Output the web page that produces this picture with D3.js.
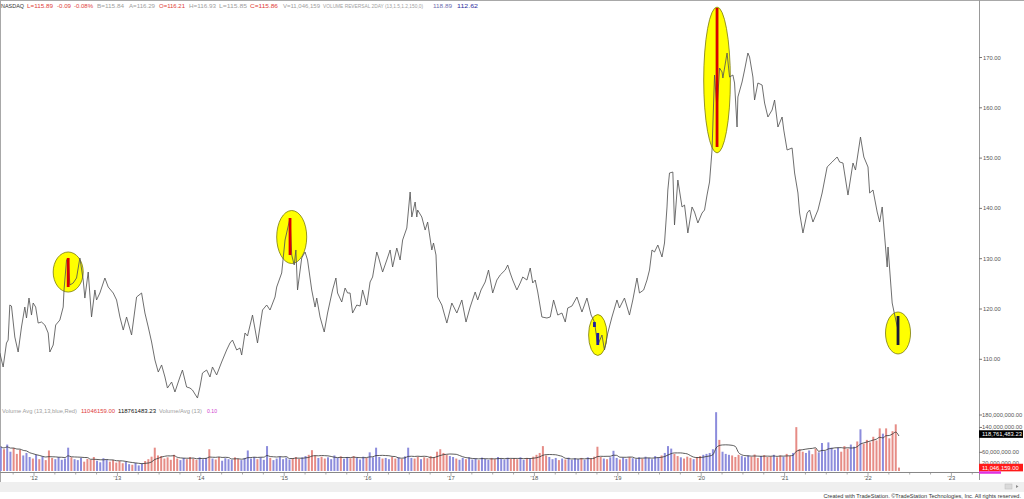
<!DOCTYPE html>
<html><head><meta charset="utf-8">
<script src="https://cdn.jsdelivr.net/npm/d3@7"></script>
<style>
html,body{margin:0;padding:0;background:#fff;}
svg{display:block;font-family:"Liberation Sans",Arial,sans-serif;}
</style></head><body>
<svg id="c" width="1024" height="499"></svg>
<script>
// ---------- DATA ----------
// price path: [fractional year, price]
const priceSeries = [[2011.59,111.25],[2011.63,108.47],[2011.67,113.24],[2011.69,113.83],[2011.71,120.79],[2011.73,120.59],[2011.77,114.43],[2011.81,111.45],[2011.85,116.42],[2011.89,120.39],[2011.91,118.21],[2011.94,122.18],[2011.97,118.80],[2011.99,121.19],[2012.02,120.39],[2012.05,117.21],[2012.09,117.41],[2012.13,116.82],[2012.17,115.23],[2012.19,111.45],[2012.23,112.84],[2012.26,116.82],[2012.31,117.81],[2012.35,120.39],[2012.36,123.78],[2012.39,129.74],[2012.41,130.14],[2012.43,124.77],[2012.47,125.17],[2012.51,126.16],[2012.55,130.14],[2012.59,125.76],[2012.61,122.18],[2012.65,127.35],[2012.69,118.41],[2012.73,123.78],[2012.75,121.79],[2012.79,123.18],[2012.85,126.16],[2012.89,124.37],[2012.95,123.18],[2012.99,121.79],[2013.03,118.41],[2013.07,115.82],[2013.11,118.41],[2013.17,114.83],[2013.23,122.38],[2013.29,123.18],[2013.33,119.20],[2013.37,116.42],[2013.41,113.44],[2013.45,109.86],[2013.49,107.47],[2013.53,108.87],[2013.57,106.48],[2013.60,104.29],[2013.65,105.48],[2013.69,103.50],[2013.75,106.48],[2013.78,107.87],[2013.83,104.49],[2013.87,104.29],[2013.90,103.89],[2013.96,102.30],[2013.99,104.49],[2014.02,107.27],[2014.07,107.87],[2014.11,106.48],[2014.14,108.47],[2014.19,106.88],[2014.25,109.46],[2014.31,111.85],[2014.35,113.24],[2014.38,113.83],[2014.43,111.85],[2014.47,112.25],[2014.49,110.85],[2014.53,115.23],[2014.56,114.63],[2014.62,118.80],[2014.68,113.24],[2014.74,119.80],[2014.79,120.79],[2014.83,119.80],[2014.89,122.38],[2014.91,124.37],[2014.97,127.16],[2015.01,133.72],[2015.07,138.09],[2015.09,130.73],[2015.12,128.75],[2015.14,131.73],[2015.16,123.78],[2015.21,130.14],[2015.25,131.33],[2015.28,129.74],[2015.33,123.78],[2015.37,120.39],[2015.39,122.18],[2015.43,118.41],[2015.48,115.43],[2015.52,119.20],[2015.58,123.78],[2015.62,126.16],[2015.64,123.18],[2015.69,121.39],[2015.73,124.17],[2015.76,123.18],[2015.79,123.18],[2015.82,119.20],[2015.87,120.79],[2015.91,120.59],[2015.94,123.78],[2015.99,120.79],[2016.03,125.37],[2016.06,126.36],[2016.11,131.33],[2016.13,130.34],[2016.18,127.35],[2016.23,129.74],[2016.27,131.73],[2016.30,128.35],[2016.35,132.12],[2016.39,129.74],[2016.42,133.72],[2016.47,136.10],[2016.51,143.26],[2016.53,138.29],[2016.57,141.27],[2016.59,138.29],[2016.60,139.68],[2016.65,138.29],[2016.69,135.70],[2016.72,137.29],[2016.77,131.73],[2016.79,133.12],[2016.82,130.73],[2016.84,122.38],[2016.89,120.79],[2016.95,117.21],[2017.01,121.19],[2017.07,119.20],[2017.13,121.79],[2017.18,117.41],[2017.23,120.39],[2017.29,123.38],[2017.32,121.79],[2017.36,123.78],[2017.41,125.37],[2017.45,127.75],[2017.50,123.18],[2017.55,125.76],[2017.59,126.76],[2017.65,127.75],[2017.68,128.75],[2017.71,127.16],[2017.74,125.76],[2017.79,123.78],[2017.83,125.17],[2017.86,126.36],[2017.91,125.76],[2017.95,128.15],[2017.98,125.17],[2018.01,125.76],[2018.04,123.38],[2018.09,118.41],[2018.15,118.21],[2018.19,118.41],[2018.23,121.79],[2018.28,118.80],[2018.33,119.20],[2018.37,117.41],[2018.40,120.20],[2018.45,120.59],[2018.51,122.38],[2018.57,119.40],[2018.63,122.18],[2018.68,118.80],[2018.72,117.41],[2018.76,112.84],[2018.81,114.83],[2018.84,111.85],[2018.88,115.23],[2018.93,118.41],[2018.99,121.79],[2019.02,120.20],[2019.08,122.18],[2019.14,118.80],[2019.18,121.79],[2019.23,126.16],[2019.26,123.18],[2019.31,123.78],[2019.35,125.76],[2019.38,127.75],[2019.41,131.73],[2019.44,131.33],[2019.48,132.72],[2019.53,130.34],[2019.56,133.12],[2019.59,140.28],[2019.60,143.66],[2019.62,147.04],[2019.66,147.23],[2019.68,136.70],[2019.72,145.64],[2019.77,140.28],[2019.80,140.67],[2019.84,135.11],[2019.89,140.28],[2019.92,139.28],[2019.96,137.10],[2020.01,139.08],[2020.04,139.68],[2020.07,142.66],[2020.10,145.25],[2020.13,151.61],[2020.16,166.52],[2020.19,159.56],[2020.22,167.91],[2020.25,167.12],[2020.26,165.92],[2020.31,170.89],[2020.34,166.12],[2020.38,166.52],[2020.40,164.93],[2020.43,156.18],[2020.44,162.15],[2020.49,165.13],[2020.52,167.51],[2020.56,170.89],[2020.58,170.10],[2020.62,166.12],[2020.64,161.55],[2020.68,164.93],[2020.73,164.53],[2020.76,160.95],[2020.80,158.17],[2020.85,159.56],[2020.88,161.55],[2020.92,156.18],[2020.97,158.17],[2020.99,155.58],[2021.03,151.61],[2021.09,152.01],[2021.12,147.04],[2021.16,143.06],[2021.18,139.08],[2021.22,135.11],[2021.27,139.08],[2021.30,139.68],[2021.34,137.29],[2021.40,139.68],[2021.45,143.06],[2021.48,145.64],[2021.51,148.23],[2021.57,149.22],[2021.63,150.22],[2021.66,149.22],[2021.70,149.02],[2021.76,142.66],[2021.82,149.02],[2021.85,147.63],[2021.91,154.19],[2021.95,150.22],[2022.00,148.23],[2022.02,143.06],[2022.06,143.66],[2022.11,139.28],[2022.14,137.29],[2022.17,140.28],[2022.20,134.31],[2022.23,128.35],[2022.24,132.32],[2022.29,121.19],[2022.32,118.80],[2022.36,115.82]];

// volume reversal painted bars
const revDates = [2012.41, 2015.07, 2018.72, 2018.76, 2020.19, 2022.36];
const revHigh  = [130.14, 138.09, 117.41, 115.23, 179.84, 118.61];
const revLow   = [124.37, 130.73, 116.42, 112.84, 152.21, 112.84];
const revKind  = ["up", "up", "down", "down", "up", "last"];

// highlight ellipses (centre date/price, half-width in years, half-height in price)
const ellDates  = [2012.41, 2015.09, 2018.76, 2020.19, 2022.36];
const ellPrices = [127.35, 134.31, 114.83, 165.53, 115.23];
const ellHalfYr = [0.18, 0.18, 0.11, 0.16, 0.15];
const ellHalfPx = [3.98, 5.27, 4.07, 14.5, 4.17];

// volume (millions), one bar every two weeks from volStart
const volStart = 2011.59;
const volStepYears = 2 / 52;
const volumeM = [
78,70,85,62,74,55,68,50,58,45,40,52,38,47,35,66,42,38,45,36,
40,75,44,38,35,42,30,39,36,45,33,28,41,37,30,35,27,32,25,30,
22,20,26,18,24,32,38,46,75,50,48,40,44,36,52,40,35,42,38,45,
40,36,44,38,42,70,40,37,45,33,41,38,36,44,39,35,42,66,40,45,
38,44,36,80,42,35,40,46,38,43,37,41,45,39,44,48,52,67,50,42,
46,40,44,38,50,42,47,39,45,41,48,43,37,46,42,60,44,75,45,40,
42,38,45,40,44,39,47,75,42,40,46,38,44,41,48,45,62,70,58,52,
48,45,40,36,42,38,44,37,41,35,43,39,36,42,38,45,40,37,43,39,
41,38,44,36,42,40,46,52,58,80,50,45,38,42,35,40,37,43,36,41,
38,42,36,44,40,46,78,45,40,38,44,65,42,37,43,39,45,41,38,44,
40,46,42,38,48,44,50,58,80,72,55,48,44,40,46,42,38,45,48,52,
55,58,70,189,100,62,55,52,50,45,52,48,44,50,46,53,42,48,51,45,
47,52,44,50,46,55,48,58,141,70,62,58,66,54,72,60,90,64,92,75,
68,75,62,80,72,85,78,95,134,88,100,92,110,98,137,120,137,105,128,150,
11];
const volAvgWindow = 7; // ~13 weeks

// ticks / labels
const priceTicks = [110,120,130,140,150,160,170];
const volTicks = [20,60,140,180];
const yearTicks = [2012,2013,2014,2015,2016,2017,2018,2019,2020,2021,2022,2023];
const yearLabels = ["'12","'13","'14","'15","'16","'17","'18","'19","'20","'21","'22","'23"];
const headerItems = [
  ["NASDAQ","#333"],["L=115.89","#e0403a"],["-0.09","#e0403a"],["-0.08%","#e0403a"],
  ["B=115.84","#a0a0a0"],["A=116.29","#a0a0a0"],["O=116.21","#e0403a"],["H=116.93","#a0a0a0"],
  ["L=115.85","#a0a0a0"],["C=115.86","#e0403a"],["V=11,046,159","#a0a0a0"],
  ["VOLUME REVERSAL 2DAY (13,1.5,1.2,150,0)","#a0a0a0"],["118.89","#7070b0"],["112.62","#3030a0"]];
const headerX = [1,27,57,74,97,129,159,189,219,250,283,323,433,457];
const headerW = [23,26,14,19,27,26,26,27,28,28,37,100,19,21];
const volLabelItems = [["Volume Avg (13,13,blue,Red)","#a0a0a0"],["11046159.00","#e04040"],["118761483.23","#111"],["Volume/Avg (13)","#a0a0a0"],["0.10","#d040d0"]];
const volLabelX = [2,81,118,159,207];
const volLabelW = [75,34,38,43,10];
const lastVolume = 11046159.00, lastAvg = 118761483.23;

// ---------- DRAW ----------
const svg = d3.select("#c");
const axisX = 979;
const x = d3.scaleLinear().domain([2012, 2023]).range([34, 951.4]);
const y = d3.scaleLinear().domain([110, 170]).range([359.3, 57.5]);
const yv = d3.scaleLinear().domain([0, 180]).range([471, 415]);

svg.append("defs").append("clipPath").attr("id","pclip")
  .append("rect").attr("x",0).attr("y",1).attr("width",axisX).attr("height",400);

// frame
svg.append("line").attr("x1",0).attr("x2",1024).attr("y1",0.5).attr("y2",0.5).attr("stroke","#a8a8a8");
svg.append("line").attr("x1",0.5).attr("x2",0.5).attr("y1",0).attr("y2",482).attr("stroke","#a8a8a8");

// ellipses
const pg = svg.append("g").attr("clip-path","url(#pclip)");
ellDates.forEach((d,i)=>{
  pg.append("ellipse")
    .attr("cx", x(d)).attr("cy", y(ellPrices[i]))
    .attr("rx", x(d+ellHalfYr[i]) - x(d))
    .attr("ry", y(ellPrices[i]-ellHalfPx[i]) - y(ellPrices[i]))
    .attr("fill","#ffff00").attr("stroke","#7a7a10").attr("stroke-width",0.8);
});

// price line
const line = d3.line().x(d=>x(d[0])).y(d=>y(d[1]));
pg.append("path").datum(priceSeries).attr("d",line)
  .attr("fill","none").attr("stroke","#555").attr("stroke-width",0.85).attr("stroke-linejoin","round");

// reversal bars
const revColor = {up:"#d80000", down:"#1c1ca0", last:"#1a1a3a"};
revDates.forEach((d,i)=>{
  pg.append("rect").attr("x", x(d)-1.4).attr("width",2.8)
    .attr("y", y(revHigh[i])).attr("height", y(revLow[i]) - y(revHigh[i]))
    .attr("fill", revColor[revKind[i]]);
});

// price axis
svg.append("line").attr("x1",axisX+0.5).attr("x2",axisX+0.5).attr("y1",0).attr("y2",480).attr("stroke","#999");
const pAxis = svg.append("g");
priceTicks.forEach(v=>{
  pAxis.append("line").attr("x1",axisX).attr("x2",axisX+3).attr("y1",y(v)).attr("y2",y(v)).attr("stroke","#777");
  pAxis.append("text").attr("x",axisX+4).attr("y",y(v)).attr("dy","0.35em")
    .attr("font-size",5.8).attr("fill","#555").text(d3.format(".2f")(v));
});

// header
headerItems.forEach((h,i)=>{
  svg.append("text").attr("x",headerX[i]).attr("y",7.5).attr("font-size", i===11 ? 4.9 : 5.6)
    .attr("textLength",headerW[i]).attr("lengthAdjust","spacingAndGlyphs")
    .attr("fill",h[1]).text(h[0]);
});

// volume label row
volLabelItems.forEach((h,i)=>{
  svg.append("text").attr("x",volLabelX[i]).attr("y",412.5).attr("font-size",5.6)
    .attr("textLength",volLabelW[i]).attr("lengthAdjust","spacingAndGlyphs")
    .attr("fill",h[1]).text(h[0]);
});

// volume bars (blue = up week, red = down week, from the price path)
const bis = d3.bisector(d=>d[0]).left;
const interp = t=>{
  let j = bis(priceSeries, t);
  if (j<=0) return priceSeries[0][1];
  if (j>=priceSeries.length) return priceSeries[priceSeries.length-1][1];
  const a = priceSeries[j-1], b = priceSeries[j];
  return a[1] + (b[1]-a[1])*(t-a[0])/(b[0]-a[0]);
};
const vg = svg.append("g");
const barW = x(2012+volStepYears) - x(2012);
volumeM.forEach((v,i)=>{
  const t = volStart + i*volStepYears;
  const up = interp(t) >= interp(t - volStepYears);
  vg.append("rect").attr("x", x(t)).attr("width", barW*0.62)
    .attr("y", yv(v)).attr("height", yv(0)-yv(v))
    .attr("fill", up ? "#8c8cdc" : "#e68c86");
});
// moving average
const ma = volumeM.map((v,i)=>{
  const s = volumeM.slice(Math.max(0,i-volAvgWindow+1), i+1);
  return [volStart + i*volStepYears + volStepYears*0.3, d3.mean(s)];
});
vg.append("path").datum(ma).attr("d", d3.line().x(d=>x(d[0])).y(d=>yv(d[1])).curve(d3.curveMonotoneX))
  .attr("fill","none").attr("stroke","#333").attr("stroke-width",0.8);

// volume axis
const vAxis = svg.append("g");
volTicks.forEach(v=>{
  vAxis.append("line").attr("x1",axisX).attr("x2",axisX+3).attr("y1",yv(v)).attr("y2",yv(v)).attr("stroke","#777");
  vAxis.append("text").attr("x",axisX+3).attr("y",yv(v) - (v===20?1.5:0)).attr("dy","0.35em")
    .attr("font-size",5.8).attr("fill","#555").text(d3.format(",.2f")(v*1e6));
});
const box = (val, bg, fg)=>{
  const cy = yv(val/1e6);
  vAxis.append("rect").attr("x",axisX).attr("y",cy-3.8).attr("width",44).attr("height",7.6).attr("fill",bg);
  vAxis.append("text").attr("x",axisX+3).attr("y",cy).attr("dy","0.35em")
    .attr("font-size",5.8).attr("fill",fg).text(d3.format(",.2f")(val));
};
box(lastAvg, "#000", "#fff");
box(lastVolume, "#ff1a1a", "#fff");
vAxis.append("rect").attr("x",axisX).attr("y",yv(lastVolume/1e6)+3.8).attr("width",22).attr("height",2.4).attr("fill","#e030e0");

// time axis
svg.append("line").attr("x1",0).attr("x2",axisX).attr("y1",472.5).attr("y2",472.5).attr("stroke","#888");
yearTicks.forEach((yr,i)=>{
  for (let q=0;q<4;q++){
    const xx = x(yr + q/4);
    if (xx < axisX) svg.append("line").attr("x1",xx).attr("x2",xx).attr("y1",472.5).attr("y2",q===0?476:474.5).attr("stroke","#888").attr("stroke-width",0.7);
  }
  svg.append("text").attr("x",x(yr)).attr("y",479.5).attr("text-anchor","middle")
    .attr("font-size",5.8).attr("fill","#555").text(yearLabels[i]);
});
svg.append("line").attr("x1",x(2011.75)).attr("x2",x(2011.75)).attr("y1",472.5).attr("y2",474.5).attr("stroke","#888").attr("stroke-width",0.7);

// scroll bar + footer
svg.append("rect").attr("x",0).attr("y",482).attr("width",1024).attr("height",10).attr("fill","#efefef");
svg.append("rect").attr("x",1005).attr("y",484).attr("width",7).attr("height",5).attr("fill","#dadada").attr("stroke","#bdbdbd").attr("stroke-width",0.5);
svg.append("path").attr("d","M1016,485 L1018.5,486.5 L1016,488 Z").attr("fill","#888");
svg.append("text").attr("x",1021).attr("y",497.5).attr("text-anchor","end").attr("font-size",5.6).attr("fill","#333")
  .text("Created with TradeStation. \u00A9TradeStation Technologies, Inc. All rights reserved.");
</script>
</body></html>
